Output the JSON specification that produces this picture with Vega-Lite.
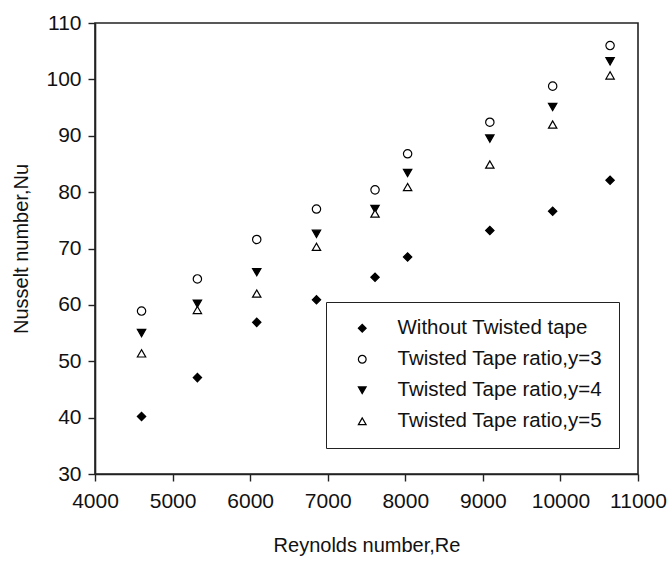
{
  "$schema": "https://vega.github.io/schema/vega-lite/v6.json",
  "autosize": "none",
  "width": 543,
  "height": 451,
  "padding": {"left": 95, "top": 23, "right": 32, "bottom": 87},
  "background": "white",
  "config": {
    "font": "Liberation Sans",
    "view": {"stroke": "#222", "strokeWidth": 1.6},
    "axis": {
      "grid": false,
      "domainColor": "#222",
      "domainWidth": 1.6,
      "tickColor": "#222",
      "tickWidth": 1.4,
      "tickSize": 7,
      "labelFont": "Liberation Sans",
      "labelFontSize": 21,
      "labelColor": "#111",
      "titleFont": "Liberation Sans",
      "titleFontSize": 20,
      "titleFontWeight": "normal",
      "titleColor": "#111"
    },
    "legend": {
      "labelFont": "Liberation Sans",
      "labelFontSize": 20.5,
      "labelColor": "#111",
      "labelLimit": 0
    }
  },
  "data": {
    "values": [
      {"Re": 4600, "Nu": 40.2, "series": "Without Twisted tape"},
      {"Re": 5320, "Nu": 47.1, "series": "Without Twisted tape"},
      {"Re": 6085, "Nu": 56.9, "series": "Without Twisted tape"},
      {"Re": 6855, "Nu": 60.9, "series": "Without Twisted tape"},
      {"Re": 7610, "Nu": 64.9, "series": "Without Twisted tape"},
      {"Re": 8030, "Nu": 68.5, "series": "Without Twisted tape"},
      {"Re": 9090, "Nu": 73.2, "series": "Without Twisted tape"},
      {"Re": 9900, "Nu": 76.6, "series": "Without Twisted tape"},
      {"Re": 10640, "Nu": 82.1, "series": "Without Twisted tape"},
      {"Re": 4600, "Nu": 58.9, "series": "Twisted Tape ratio,y=3"},
      {"Re": 5320, "Nu": 64.6, "series": "Twisted Tape ratio,y=3"},
      {"Re": 6085, "Nu": 71.6, "series": "Twisted Tape ratio,y=3"},
      {"Re": 6855, "Nu": 77.0, "series": "Twisted Tape ratio,y=3"},
      {"Re": 7610, "Nu": 80.4, "series": "Twisted Tape ratio,y=3"},
      {"Re": 8030, "Nu": 86.8, "series": "Twisted Tape ratio,y=3"},
      {"Re": 9090, "Nu": 92.4, "series": "Twisted Tape ratio,y=3"},
      {"Re": 9900, "Nu": 98.8, "series": "Twisted Tape ratio,y=3"},
      {"Re": 10640, "Nu": 106.0, "series": "Twisted Tape ratio,y=3"},
      {"Re": 4600, "Nu": 55.0, "series": "Twisted Tape ratio,y=4"},
      {"Re": 5320, "Nu": 60.2, "series": "Twisted Tape ratio,y=4"},
      {"Re": 6085, "Nu": 65.8, "series": "Twisted Tape ratio,y=4"},
      {"Re": 6855, "Nu": 72.6, "series": "Twisted Tape ratio,y=4"},
      {"Re": 7610, "Nu": 77.0, "series": "Twisted Tape ratio,y=4"},
      {"Re": 8030, "Nu": 83.4, "series": "Twisted Tape ratio,y=4"},
      {"Re": 9090, "Nu": 89.5, "series": "Twisted Tape ratio,y=4"},
      {"Re": 9900, "Nu": 95.1, "series": "Twisted Tape ratio,y=4"},
      {"Re": 10640, "Nu": 103.2, "series": "Twisted Tape ratio,y=4"},
      {"Re": 4600, "Nu": 51.4, "series": "Twisted Tape ratio,y=5"},
      {"Re": 5320, "Nu": 59.1, "series": "Twisted Tape ratio,y=5"},
      {"Re": 6085, "Nu": 62.0, "series": "Twisted Tape ratio,y=5"},
      {"Re": 6855, "Nu": 70.3, "series": "Twisted Tape ratio,y=5"},
      {"Re": 7610, "Nu": 76.2, "series": "Twisted Tape ratio,y=5"},
      {"Re": 8030, "Nu": 80.9, "series": "Twisted Tape ratio,y=5"},
      {"Re": 9090, "Nu": 84.9, "series": "Twisted Tape ratio,y=5"},
      {"Re": 9900, "Nu": 92.0, "series": "Twisted Tape ratio,y=5"},
      {"Re": 10640, "Nu": 100.7, "series": "Twisted Tape ratio,y=5"}
    ]
  },
  "mark": {"type": "point", "filled": true, "strokeWidth": 1.2, "size": 70, "opacity": 1},
  "encoding": {
    "x": {
      "field": "Re", "type": "quantitative",
      "scale": {"domain": [4000, 11000], "nice": false, "zero": false},
      "axis": {"values": [4000,5000,6000,7000,8000,9000,10000,11000], "format": "d", "title": "Reynolds number,Re", "labelPadding": 9, "titlePadding": 24, "labelFlush": false}
    },
    "y": {
      "field": "Nu", "type": "quantitative",
      "scale": {"domain": [30, 110], "nice": false, "zero": false},
      "axis": {"values": [30,40,50,60,70,80,90,100,110], "title": "Nusselt number,Nu", "labelPadding": 7, "titlePadding": 14, "labelFlush": false}
    },
    "stroke": {
      "field": "series", "type": "nominal",
      "scale": {"domain": ["Without Twisted tape", "Twisted Tape ratio,y=3", "Twisted Tape ratio,y=4", "Twisted Tape ratio,y=5"], "range": ["black", "black", "black", "black"]},
      "legend": {"title": null, "orient": "none", "legendX": 231, "legendY": 279, "strokeColor": "#222", "padding": 16, "rowPadding": 10, "symbolOffset": 10, "labelOffset": 25, "symbolSize": 60, "symbolStrokeWidth": 1.2}
    },
    "shape": {
      "field": "series", "type": "nominal",
      "scale": {"domain": ["Without Twisted tape", "Twisted Tape ratio,y=3", "Twisted Tape ratio,y=4", "Twisted Tape ratio,y=5"], "range": ["diamond", "circle", "triangle-down", "triangle-up"]},
      "legend": {"title": null, "orient": "none", "legendX": 231, "legendY": 279, "strokeColor": "#222", "padding": 16, "rowPadding": 10, "symbolOffset": 10, "labelOffset": 25, "symbolSize": 60, "symbolStrokeWidth": 1.2}
    },
    "fill": {
      "field": "series", "type": "nominal",
      "scale": {"domain": ["Without Twisted tape", "Twisted Tape ratio,y=3", "Twisted Tape ratio,y=4", "Twisted Tape ratio,y=5"], "range": ["black", "white", "black", "white"]},
      "legend": {"title": null, "orient": "none", "legendX": 231, "legendY": 279, "strokeColor": "#222", "padding": 16, "rowPadding": 10, "symbolOffset": 10, "labelOffset": 25, "symbolSize": 60, "symbolStrokeWidth": 1.2}
    }
  }
}
